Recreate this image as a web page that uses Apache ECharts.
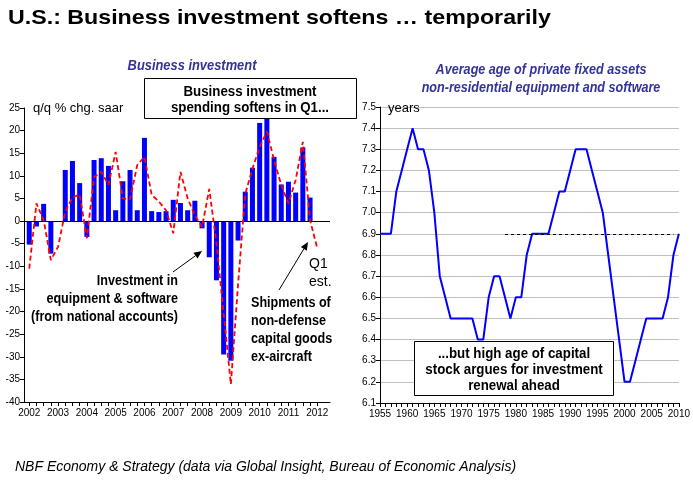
<!DOCTYPE html>
<html><head><meta charset="utf-8">
<script src="https://cdn.jsdelivr.net/npm/echarts@6/dist/echarts.min.js"></script>
<style>html,body{margin:0;padding:0;background:#fff;}#c{width:693px;height:487px;}</style>
</head><body><div id="c"></div>
<script>
// ---------- data ----------
var startYear = 2002;
var investment = [-5.2, -1.2, 3.8, -7.2, 0.0, 11.3, 13.3, 8.4, -3.5, 13.5, 13.9, 12.2, 2.4, 8.8, 11.3, 2.4, 18.4, 2.2, 2.0, 2.2, 4.7, 4.0, 2.4, 4.5, -1.6, -8.0, -13.1, -29.5, -30.9, -4.3, 6.5, 11.8, 21.7, 23.5, 14.2, 8.1, 8.7, 6.3, 16.3, 5.2];
var shipments = [-10.5, 3.9, 0.2, -8.6, -5.7, 2.1, 5.2, 5.9, -3.8, 9.7, 10.9, 8.0, 15.3, 5.0, 4.8, 12.4, 14.2, 5.8, 4.3, 2.4, -2.7, 10.9, 5.0, 1.3, -1.3, 7.1, -4.9, -20.4, -36.1, -14.0, 6.0, 11.6, 16.4, 19.8, 13.5, 8.0, 3.9, 9.1, 17.5, 0.2, -6.0];
var ageYears = [];
for (var yy = 1955; yy <= 2010; yy++) ageYears.push(yy);
var avgAge = [6.9,6.9,6.9,7.1,7.2,7.3,7.4,7.3,7.3,7.2,
              7.0,6.7,6.6,6.5,6.5,6.5,6.5,6.5,6.4,6.4,
              6.6,6.7,6.7,6.6,6.5,6.6,6.6,6.8,6.9,6.9,
              6.9,6.9,7.0,7.1,7.1,7.2,7.3,7.3,7.3,7.2,
              7.1,7.0,6.8,6.6,6.4,6.2,6.2,6.3,6.4,6.5,
              6.5,6.5,6.5,6.6,6.8,6.9];
var avgLine = {from: 1978, to: 2009, value: 6.9};

// ---------- build ----------
var invData = investment.map(function(v, i){ return [i, v]; });
var shipData = shipments.map(function(v, i){ return [i, v]; });
var qTicks = []; for (var q = 0; q < shipments.length; q++) qTicks.push(q);
var yearLabels = []; for (var q2 = 0; q2 < shipments.length; q2 += 4) yearLabels.push(q2);
var ageData = ageYears.map(function(y, i){ return [y, avgAge[i]]; });

var SANS = "'Liberation Sans', Arial, sans-serif";
var BLUE_T = '#333399';

function txt(x, y, s, o) {
  o = o || {};
  return {
    type: 'text', x: x, y: y, scaleX: o.sx || 1, z: 100,
    style: {
      x: 0, y: 0, text: s,
      fill: o.color || '#000',
      font: (o.style || '') + ' ' + (o.weight || 'normal') + ' ' + (o.size || 13) + 'px ' + (o.family || SANS),
      textAlign: o.align || 'left', textVerticalAlign: 'middle'
    }
  };
}
function arrow(x1, y1, x2, y2) {
  var dx = x2 - x1, dy = y2 - y1, L = Math.sqrt(dx*dx + dy*dy);
  var ux = dx / L, uy = dy / L, bx = x2 - 8*ux, by = y2 - 8*uy, px = -uy*3.5, py = ux*3.5;
  return [
    {type: 'line', z: 100, shape: {x1: x1, y1: y1, x2: bx, y2: by}, style: {stroke: '#000', lineWidth: 1}},
    {type: 'polygon', z: 100, shape: {points: [[x2, y2], [bx + px, by + py], [bx - px, by - py]]}, style: {fill: '#000'}}
  ];
}

var graphics = [
  txt(8, 18, 'U.S.: Business investment softens … temporarily', {weight: 'bold', size: 21, sx: 1.105}),
  txt(192, 66, 'Business investment', {weight: 'bold', style: 'italic', size: 14, color: BLUE_T, align: 'center', sx: 0.92}),
  txt(541, 70, 'Average age of private fixed assets', {weight: 'bold', style: 'italic', size: 14, color: BLUE_T, align: 'center', sx: 0.9}),
  txt(541, 88, 'non-residential equipment and software', {weight: 'bold', style: 'italic', size: 14, color: BLUE_T, align: 'center', sx: 0.9}),
  txt(33, 108, 'q/q % chg. saar', {size: 13}),
  txt(388, 108, 'years', {size: 13}),
  {type: 'rect', z: 90, shape: {x: 144.5, y: 78.5, width: 212, height: 40}, style: {fill: '#fff', stroke: '#000', lineWidth: 1}},
  txt(250, 92, 'Business investment', {weight: 'bold', size: 14, align: 'center', sx: 0.95}),
  txt(250, 108, 'spending softens in Q1...', {weight: 'bold', size: 14, align: 'center', sx: 0.95}),
  txt(178, 281, 'Investment in', {weight: 'bold', size: 14, align: 'right', sx: 0.9}),
  txt(178, 299, 'equipment & software', {weight: 'bold', size: 14, align: 'right', sx: 0.9}),
  txt(178, 317, '(from national accounts)', {weight: 'bold', size: 14, align: 'right', sx: 0.9}),
  txt(309, 264, 'Q1', {size: 14}),
  txt(309, 282, 'est.', {size: 14}),
  txt(251, 303, 'Shipments of', {weight: 'bold', size: 14, sx: 0.9}),
  txt(251, 321, 'non-defense', {weight: 'bold', size: 14, sx: 0.9}),
  txt(251, 339, 'capital goods', {weight: 'bold', size: 14, sx: 0.9}),
  txt(251, 357, 'ex-aircraft', {weight: 'bold', size: 14, sx: 0.9}),
  {type: 'rect', z: 90, shape: {x: 414.5, y: 341.5, width: 199, height: 54}, style: {fill: '#fff', stroke: '#000', lineWidth: 1}},
  txt(514, 354, '...but high age of capital', {weight: 'bold', size: 14, align: 'center', sx: 0.95}),
  txt(514, 370, 'stock argues for investment', {weight: 'bold', size: 14, align: 'center', sx: 0.95}),
  txt(514, 386, 'renewal ahead', {weight: 'bold', size: 14, align: 'center', sx: 0.95}),
  txt(15, 467, 'NBF Economy & Strategy (data via Global Insight, Bureau of Economic Analysis)', {style: 'italic', size: 14})
].concat(arrow(173, 272, 202, 251)).concat(arrow(279, 290, 308, 242));

var tickLabel = {color: '#000', fontFamily: SANS, fontSize: 10};

var option = {
  animation: false,
  backgroundColor: '#fff',
  grid: [
    {left: 24, top: 108, width: 306, height: 294},
    {left: 380, top: 107, width: 299, height: 296}
  ],
  xAxis: [
    {
      type: 'value', gridIndex: 0, min: -0.73, max: 41.77,
      axisLine: {onZero: false, lineStyle: {color: '#000'}},
      axisTick: {customValues: qTicks, length: 4, lineStyle: {color: '#000'}},
      axisLabel: Object.assign({customValues: yearLabels, formatter: function(v){ return String(startYear + Math.round(v) / 4); }, margin: 6}, tickLabel),
      splitLine: {show: false}
    },
    {
      type: 'value', gridIndex: 1, min: 1955, max: 2010, interval: 5,
      axisLine: {onZero: false, lineStyle: {color: '#000'}},
      axisTick: {length: 4, lineStyle: {color: '#000'}},
      minorTick: {show: true, splitNumber: 5, length: 4, lineStyle: {color: '#000'}},
      axisLabel: Object.assign({formatter: function(v){ return String(v); }, margin: 6}, tickLabel),
      splitLine: {show: false}
    }
  ],
  yAxis: [
    {
      type: 'value', gridIndex: 0, min: -40, max: 25, interval: 5,
      axisLine: {show: true, onZero: false, lineStyle: {color: '#000'}},
      axisTick: {show: true, length: 4, lineStyle: {color: '#000'}},
      axisLabel: Object.assign({margin: 4}, tickLabel),
      splitLine: {show: false}
    },
    {
      type: 'value', gridIndex: 1, min: 6.1, max: 7.5, interval: 0.1,
      axisLine: {show: true, onZero: false, lineStyle: {color: '#000'}},
      axisTick: {show: true, length: 4, lineStyle: {color: '#000'}},
      axisLabel: Object.assign({margin: 4, formatter: function(v){ return v.toFixed(1); }}, tickLabel),
      splitLine: {show: true, lineStyle: {color: '#c0c0c0', width: 1}}
    }
  ],
  series: [
    {
      type: 'bar', xAxisIndex: 0, yAxisIndex: 0, data: invData, barWidth: 5,
      itemStyle: {color: '#0000ff'},
      markLine: {silent: true, symbol: 'none', label: {show: false}, lineStyle: {color: '#000', type: 'solid', width: 1},
        data: [{yAxis: 0}]}
    },
    {
      type: 'line', xAxisIndex: 0, yAxisIndex: 0, data: shipData, showSymbol: false, symbol: 'none',
      lineStyle: {color: '#ff0000', width: 1.8, type: [5, 3]}, z: 5
    },
    {
      type: 'line', xAxisIndex: 1, yAxisIndex: 1, data: ageData, showSymbol: false, symbol: 'none',
      lineStyle: {color: '#0000ff', width: 2},
      markLine: {silent: true, symbol: 'none', label: {show: false}, lineStyle: {color: '#000', type: [3, 3], width: 1},
        data: [[{coord: [avgLine.from, avgLine.value]}, {coord: [avgLine.to, avgLine.value]}]]}
    }
  ],
  graphic: graphics
};
var chart = echarts.init(document.getElementById('c'), null, {renderer: 'canvas'});
chart.setOption(option);
</script>
</body></html>
